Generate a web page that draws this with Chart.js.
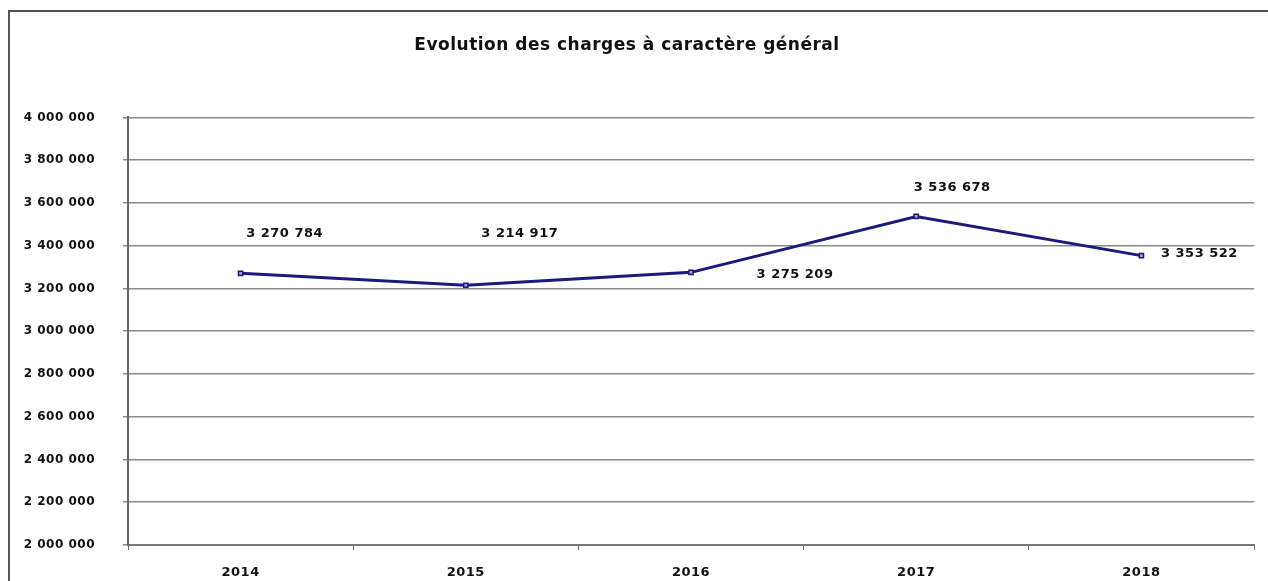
<!DOCTYPE html>
<html lang="fr">
<head>
<meta charset="utf-8">
<title>Evolution des charges à caractère général</title>
<script src="https://cdn.jsdelivr.net/npm/chart.js@4/dist/chart.umd.min.js"></script>
<style>
  html, body { margin: 0; padding: 0; background: #fff; overflow: hidden; }
  .wrap { position: relative; width: 1268px; height: 581px; }
  .frame {
    position: absolute; left: 8px; top: 10px; width: 1400px; height: 700px;
    border: 2px solid #555; box-sizing: border-box; pointer-events: none;
  }
  canvas { position: absolute; left: 0; top: 0; }
</style>
</head>
<body>
<div class="wrap">
  <canvas id="chart" width="1268" height="581"></canvas>
  <div class="frame"></div>
</div>
<script>
// données
const years = ['2014', '2015', '2016', '2017', '2018'];
const charges = [3270784, 3214917, 3275209, 3536678, 3353522];

// axe Y : 2 000 000 -> 4 000 000 par pas de 200 000
const yMin = 2000000;
const yMax = 4000000;
const yStep = 200000;

// décalage des étiquettes de valeur par rapport au point (px)
const labelOffsets = [[44, -40], [54, -52], [104, 2], [36, -29], [58, -2]];

const FONT = 'DejaVu Sans, Verdana, sans-serif';

function fmt(v) {
  return String(v).replace(/\B(?=(\d{3})+(?!\d))/g, ' ');
}

// texte large et serré comme sur l'original
const spacingPlugin = {
  id: 'spacing',
  beforeUpdate(chart) { chart.ctx.letterSpacing = '0.5px'; },
  beforeDraw(chart) { chart.ctx.letterSpacing = '0.5px'; },
};

const valueLabels = {
  id: 'valueLabels',
  afterDatasetsDraw(chart) {
    const ctx = chart.ctx;
    const meta = chart.getDatasetMeta(0);
    ctx.save();
    ctx.letterSpacing = '0.5px';
    ctx.font = 'bold 13px ' + FONT;
    ctx.fillStyle = '#111';
    ctx.textAlign = 'center';
    ctx.textBaseline = 'middle';
    meta.data.forEach((pt, i) => {
      const [dx, dy] = labelOffsets[i];
      ctx.fillText(fmt(charges[i]), pt.x + dx, pt.y + dy);
    });
    ctx.restore();
  },
};

new Chart(document.getElementById('chart'), {
  type: 'line',
  data: {
    labels: years,
    datasets: [{
      label: 'Charges à caractère général',
      data: charges,
      borderColor: '#1c1a7a',
      borderWidth: 3,
      pointStyle: 'rect',
      pointRadius: 3,
      pointBorderWidth: 1.5,
      pointBorderColor: '#1c1a7a',
      pointBackgroundColor: '#a0a0bc',
      tension: 0,
      fill: false,
    }],
  },
  options: {
    responsive: false,
    animation: false,
    layout: { padding: { left: 0, right: 14, top: 0, bottom: 0 } },
    scales: {
      x: {
        offset: true,
        grid: {
          offset: true,
          drawOnChartArea: false,
          color: '#666',
          tickLength: 5,
        },
        border: { color: '#777', width: 2 },
        ticks: {
          font: { family: FONT, size: 13, weight: 'bold' },
          color: '#111',
          padding: 15,
        },
        afterFit(scale) { scale.height = 36; },
      },
      y: {
        min: yMin,
        max: yMax,
        grid: {
          color: '#8a8a8a',
          lineWidth: 1.5,
          tickLength: 5,
        },
        border: { color: '#666', width: 2 },
        ticks: {
          stepSize: yStep,
          font: { family: FONT, size: 12, weight: 'bold' },
          color: '#111',
          padding: 28,
          callback: (v) => fmt(v),
        },
        afterFit(scale) { scale.width = 128; },
      },
    },
    plugins: {
      legend: { display: false },
      tooltip: { enabled: false },
      title: {
        display: true,
        text: 'Evolution des charges à caractère général',
        font: { family: FONT, size: 17, weight: 'bold' },
        color: '#111',
        padding: { top: 35, bottom: 62 },
      },
    },
  },
  plugins: [spacingPlugin, valueLabels],
});
</script>
</body>
</html>
